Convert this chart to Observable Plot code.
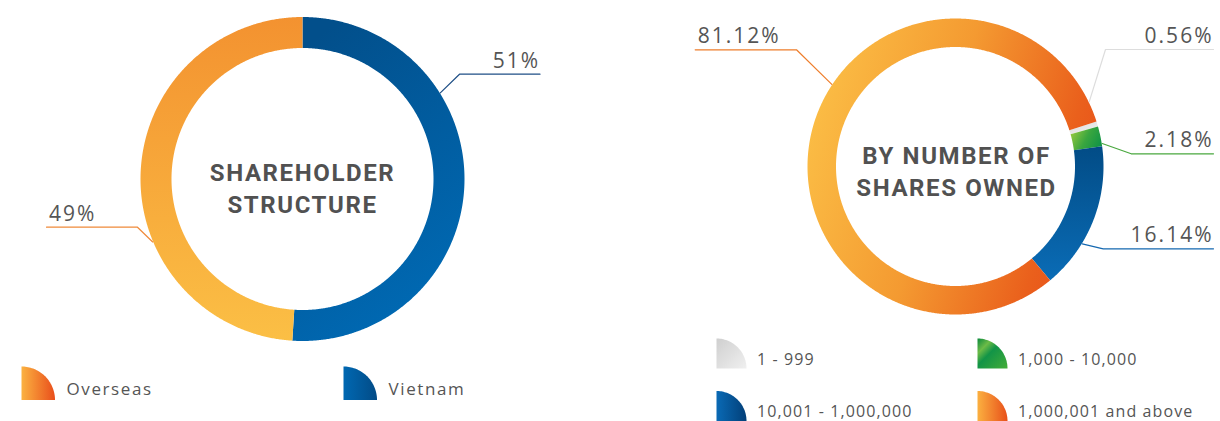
<!DOCTYPE html>
<html><head><meta charset="utf-8">
<script src="https://cdn.jsdelivr.net/npm/d3@7"></script>
<script src="https://cdn.jsdelivr.net/npm/@observablehq/plot@0.6"></script>
<style>html,body{margin:0;padding:0;background:#fff;} #chart{width:1220px;height:421px;overflow:hidden}</style>
</head><body><div id="chart"></div>
<script>
// ---------- data ----------
const structureCategories = ["Vietnam", "Overseas"];
const structureValues = [51, 49];
const structureLabels = ["51%", "49%"];
const structureTitle = ["SHAREHOLDER", "STRUCTURE"];
const structureLegendOrder = ["Overseas", "Vietnam"];

const sharesCategories = ["1 - 999", "1,000 - 10,000", "10,001 - 1,000,000", "1,000,001 and above"];
const sharesValues = [0.56, 2.18, 16.14, 81.12];
const sharesLabels = ["0.56%", "2.18%", "16.14%", "81.12%"];
const sharesTitle = ["BY NUMBER OF", "SHARES OWNED"];

// ---------- layout / style ----------
const W = 1220, H = 421;
const deg = Math.PI / 180;
const TEXT = "#555555";

const donuts = [
  { cx: 302, cy: 178.5, R: 162, r: 131, start: 0,
    cats: structureCategories, vals: structureValues, labels: structureLabels,
    grads: ["g-vn", "g-os"], title: structureTitle, titleX: 302, titleY: [180, 212],
    callouts: [
      { angle: 58, elbow: [459, 73.7], end: 539.5, side: "right", color: "#1f4f86" },
      { angle: 247.2, elbow: [137, 226.7], end: 46, side: "left", color: "#f08a3a" }
    ] },
  { cx: 955, cy: 166, R: 148, r: 119.5, start: 72.3 * deg,
    cats: sharesCategories, vals: sharesValues, labels: sharesLabels,
    grads: ["g-gray", "g-green", "g-blue", "g-orange"], title: sharesTitle, titleX: 956, titleY: [163.5, 195.5],
    callouts: [
      { angle: 64.2, elbow: [1105, 49], end: 1213, side: "right", color: "#dddddd" },
      { angle: 81.1, elbow: [1130.7, 153.3], end: 1213, side: "right", color: "#4aa83f" },
      { angle: 121.4, elbow: [1102.7, 248.3], end: 1213, side: "right", color: "#1468b0" },
      { angle: 303.6, elbow: [796, 49.3], end: 694.7, side: "left", color: "#ee7d2b" }
    ] }
];

const legends = [
  { items: structureLegendOrder, grads: ["gi-os", "gi-vn"], xs: [21, 343], ys: [366], size: 33.5, textDx: 45, textDy: 28.5, fontSize: 17, ls: "1.6px", cols: 2 },
  { items: sharesCategories, grads: ["gi-gray", "gi-green", "gi-blue", "gi-orange"], xs: [716, 977], ys: [338, 390.5], size: 30, textDx: 40.5, textDy: 26.3, fontSize: 16, ls: "1.1px", cols: 2 }
];

function arcPoints(cx, cy, R, r, a0, a1) {
  const n = Math.max(2, Math.ceil((a1 - a0) / (0.4 * deg)));
  const pts = [];
  for (let i = 0; i <= n; i++) { const t = a0 + (a1 - a0) * i / n; pts.push({x: cx + R * Math.sin(t), y: cy - R * Math.cos(t)}); }
  for (let i = n; i >= 0; i--) { const t = a0 + (a1 - a0) * i / n; pts.push({x: cx + r * Math.sin(t), y: cy - r * Math.cos(t)}); }
  return pts;
}
function quarterPoints(x0, y0, s) {
  const pts = [{x: x0, y: y0 + s}];
  const n = 40;
  for (let i = 0; i <= n; i++) { const t = (Math.PI / 2) * i / n; pts.push({x: x0 + s * Math.sin(t), y: y0 + s - s * Math.cos(t)}); }
  return pts;
}

const marks = [];
for (const d of donuts) {
  const arcs = d3.pie().value(v => v).sort(null).startAngle(d.start).endAngle(d.start + 2 * Math.PI)(d.vals);
  arcs.forEach((a, i) => {
    marks.push(Plot.line(arcPoints(d.cx, d.cy, d.R, d.r, a.startAngle, a.endAngle),
      {x: "x", y: "y", curve: "linear-closed", fill: `url(#${d.grads[i]})`, stroke: "none"}));
  });
  // callout leader lines
  d.callouts.forEach(c => {
    const t = c.angle * deg;
    const p0 = {x: d.cx + (d.R + 0.5) * Math.sin(t), y: d.cy - (d.R + 0.5) * Math.cos(t)};
    const pts = [p0, {x: c.elbow[0], y: c.elbow[1]}, {x: c.end, y: c.elbow[1]}];
    marks.push(Plot.line(pts, {x: "x", y: "y", stroke: c.color, strokeWidth: 1.2}));
  });
  const labelRows = d.callouts.map((c, k) => ({
    x: c.side === "right" ? c.end : c.end + 2.5,
    y: c.elbow[1] - 6.5,
    text: d.labels[k],
    anchor: c.side === "right" ? "end" : "start"
  }));
  for (const anchor of ["start", "end"]) {
    marks.push(Plot.text(labelRows.filter(r => r.anchor === anchor), {
      x: "x", y: "y", text: "text", textAnchor: anchor, lineAnchor: "bottom",
      fontSize: 21, fontFamily: "Open Sans", fill: TEXT, ariaDescription: "pct"}));
  }
  marks.push(Plot.text(d.title.map((t, i) => ({t, x: d.titleX, y: d.titleY[i]})), {
    x: "x", y: "y", text: "t", textAnchor: "middle", lineAnchor: "bottom",
    fontSize: 24, fontWeight: 700, fontFamily: "Roboto", fill: "#515151", ariaDescription: "title"}));
}
legends.forEach((L, li) => {
  const rows = L.items.map((name, i) => ({name, x: L.xs[i % L.cols], y: L.ys[Math.floor(i / L.cols)], g: L.grads[i]}));
  rows.forEach(r => marks.push(Plot.line(quarterPoints(r.x, r.y, L.size), {x: "x", y: "y", curve: "linear-closed", fill: `url(#${r.g})`, stroke: "none"})));
  marks.push(Plot.text(rows, {x: r => r.x + L.textDx, y: r => r.y + L.textDy, text: "name", textAnchor: "start", lineAnchor: "bottom",
    fontSize: L.fontSize, fontFamily: "Open Sans", fill: TEXT, ariaDescription: "legend" + li}));
});

const svg = Plot.plot({
  width: W, height: H, margin: 0,
  x: {domain: [0, W], range: [0, W], axis: null},
  y: {domain: [0, H], range: [0, H], axis: null},
  style: {background: "#fff", overflow: "hidden"},
  marks
});

function lg(id, x1, y1, x2, y2, stops) {
  return `<linearGradient id="${id}" x1="${x1}" y1="${y1}" x2="${x2}" y2="${y2}">` +
    stops.map(([o, c]) => `<stop offset="${o}" stop-color="${c}"/>`).join("") + `</linearGradient>`;
}
const defs = document.createElementNS("http://www.w3.org/2000/svg", "defs");
defs.innerHTML = [
  lg("g-vn", 0.3, 0, 0.7, 1, [[0, "#024f8b"], [1, "#006bb6"]]),
  lg("g-os", 0.5, 0, 0.5, 1, [[0, "#f39230"], [1, "#fbbf45"]]),
  lg("g-gray", 0, 0, 1, 1, [[0, "#d9d9d9"], [1, "#f2f2f2"]]),
  lg("g-green", 0, 0.3, 1, 0.7, [[0, "#93c83e"], [0.5, "#3aa63f"], [1, "#109446"]]),
  lg("g-blue", 0.5, 0, 0.5, 1, [[0, "#024c86"], [1, "#0a6cb6"]]),
  lg("g-orange", 0, 0.35, 1, 0.65, [[0, "#fbbd45"], [0.45, "#f49a31"], [0.85, "#ea601c"], [1, "#e8501a"]]),
  lg("gi-os", 0, 0, 1, 0, [[0, "#fbb241"], [1, "#e94e1b"]]),
  lg("gi-vn", 0, 0, 1, 0, [[0, "#0068b2"], [1, "#024b86"]]),
  lg("gi-gray", 0, 0, 1, 1, [[0, "#cfcfcf"], [1, "#f0f0f0"]]),
  lg("gi-green", 0, 0, 1, 1, [[0, "#0b8a3c"], [0.25, "#6cbb47"], [0.45, "#129447"], [1, "#43ad38"]]),
  lg("gi-blue", 0, 0, 1, 0, [[0, "#0a6ab5"], [1, "#023f78"]]),
  lg("gi-orange", 0, 0, 1, 0, [[0, "#fbb040"], [1, "#e8501a"]])
].join("");
svg.insertBefore(defs, svg.firstChild);

const setLS = (sel, v) => svg.querySelectorAll(`g[aria-description="${sel}"] text`).forEach(t => t.style.letterSpacing = v);
setLS("pct", "2px");
setLS("title", "1.6px");
setLS("legend0", legends[0].ls);
setLS("legend1", legends[1].ls);

document.getElementById("chart").appendChild(svg);
</script>
</body></html>
